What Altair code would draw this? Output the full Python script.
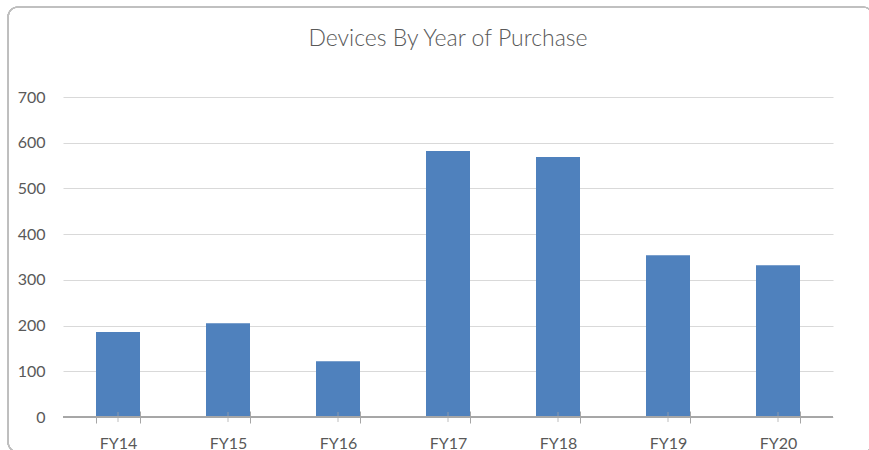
import altair as alt
import pandas as pd

categories = ["FY14", "FY15", "FY16", "FY17", "FY18", "FY19", "FY20"]
values = [186, 205, 122, 582, 569, 354, 332]

df = pd.DataFrame({"year": categories, "count": values})

FONT = "Lato"
TXT = "#595959"

xscale = alt.Scale(paddingInner=0.6, paddingOuter=0.3)

base = alt.Chart(df)

bars = base.mark_bar(color="#4F81BD").encode(
    x=alt.X("year:N", sort=categories, scale=xscale,
            axis=alt.Axis(title=None, labelAngle=0, labelFont=FONT, labelFontSize=16,
                          labelColor=TXT, tickBand="extent", tickSize=12, tickColor="#A6A6A6",
                          offset=-6, domain=False, labelPadding=12, grid=False)),
    y=alt.Y("count:Q", scale=alt.Scale(domain=[0, 700]),
            axis=alt.Axis(title=None, values=[0, 100, 200, 300, 400, 500, 600, 700],
                          labelFont=FONT, labelFontSize=16, labelColor=TXT, labelPadding=18,
                          domain=False, ticks=False, gridColor="#D9D9D9")),
)

axis_line = base.mark_rule(color="#A6A6A6", strokeWidth=1).encode(
    y=alt.datum(0)
)

center_ticks = base.mark_tick(color="#A6A6A6", orient="vertical", size=10, thickness=1).encode(
    x=alt.X("year:N", sort=categories, scale=xscale),
    y=alt.datum(0),
)

border = base.mark_rect(fill="transparent", stroke="#BFBFBF", strokeWidth=1.2, cornerRadius=10).encode(
    x=alt.value(-55), x2=alt.value(810), y=alt.value(-90), y2=alt.value(355)
)

chart = alt.layer(border, bars, axis_line, center_ticks).properties(
    width=770, height=320,
    title=alt.TitleParams("Devices By Year of Purchase", font=FONT, fontSize=23,
                          fontWeight=300, color=TXT, offset=-45, anchor="middle"),
    autosize=alt.AutoSizeParams(type="none"),
    padding={"left": 63, "top": 97, "right": 36, "bottom": 33},
).configure(background="white", view=alt.ViewConfig(stroke=None))

chart.save("out.html", embed_options={"renderer": "svg", "actions": False})
